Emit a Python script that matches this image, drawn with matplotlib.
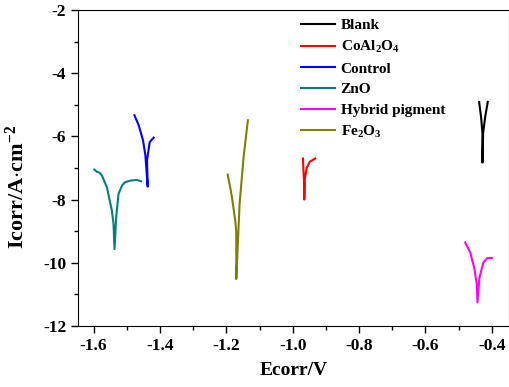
import matplotlib.pyplot as plt
from matplotlib.ticker import MultipleLocator

plt.rcParams['font.family'] = 'Liberation Serif'
plt.rcParams['font.weight'] = 'bold'
plt.rcParams['axes.unicode_minus'] = False
plt.rcParams['mathtext.fontset'] = 'custom'
plt.rcParams['mathtext.rm'] = 'Liberation Serif:bold'
plt.rcParams['mathtext.it'] = 'Liberation Serif:bold'
plt.rcParams['mathtext.bf'] = 'Liberation Serif:bold'

# Tafel curves: left branch -> minimum -> right branch
blank_e = [-0.438, -0.432, -0.428, -0.428, -0.426, -0.420, -0.412]
blank_i = [-4.91, -5.40, -5.90, -6.83, -5.90, -5.40, -4.91]

coal_e = [-0.969, -0.967, -0.965, -0.965, -0.964, -0.958, -0.948, -0.932]
coal_i = [-6.70, -7.20, -7.50, -8.00, -7.40, -7.00, -6.80, -6.70]

control_e = [-1.477, -1.464, -1.451, -1.444, -1.437, -1.439, -1.431, -1.419]
control_i = [-5.33, -5.65, -6.13, -6.60, -7.59, -6.76, -6.18, -6.04]

zno_e = [-1.598, -1.590, -1.582, -1.575, -1.560, -1.545, -1.540, -1.537,
         -1.532, -1.525, -1.514, -1.505, -1.489, -1.470, -1.457]
zno_i = [-7.05, -7.12, -7.15, -7.24, -7.61, -8.35, -8.77, -9.57,
         -8.56, -7.82, -7.55, -7.45, -7.40, -7.38, -7.42]

hybrid_e = [-0.480, -0.465, -0.453, -0.445, -0.443, -0.437, -0.425, -0.413, -0.400]
hybrid_i = [-9.36, -9.67, -10.15, -10.68, -11.26, -10.47, -9.99, -9.85, -9.85]

fe_e = [-1.196, -1.188, -1.183, -1.173, -1.170, -1.170, -1.160, -1.148, -1.135]
fe_i = [-7.21, -7.63, -7.93, -8.67, -9.04, -10.52, -8.14, -6.66, -5.49]


def draw():
    fig = plt.figure(figsize=(5.1, 3.87), dpi=100)
    ax = fig.add_axes([0.153, 0.158, 0.845, 0.816])

    ax.plot(blank_e, blank_i, color='black', lw=1.5, label='Blank')
    ax.plot(coal_e, coal_i, color='red', lw=1.5, label=r'CoAl$_2$O$_4$')
    ax.plot(control_e, control_i, color='blue', lw=1.5, label='Control')
    ax.plot(zno_e, zno_i, color='#007F7F', lw=1.5, label='ZnO')
    ax.plot(hybrid_e, hybrid_i, color='magenta', lw=1.5, label='Hybrid pigment')
    ax.plot(fe_e, fe_i, color='#808000', lw=1.5, label=r'Fe$_2$O$_3$')

    ax.set_xlim(-1.647, -0.348)
    ax.set_ylim(-12, -2)
    ax.xaxis.set_major_locator(MultipleLocator(0.2))
    ax.xaxis.set_minor_locator(MultipleLocator(0.1))
    ax.yaxis.set_major_locator(MultipleLocator(2))
    ax.yaxis.set_minor_locator(MultipleLocator(1))
    ax.tick_params(which='both', direction='out', top=False, right=False,
                   labelsize=12.5, width=1)
    ax.tick_params(which='major', length=5)
    ax.tick_params(which='minor', length=3)
    ax.set_xticklabels([f'{v:.1f}' for v in ax.get_xticks()])

    ax.set_xlabel('Ecorr/V', fontsize=14, fontweight='bold', labelpad=6)
    ax.set_ylabel(r'Icorr/A$\cdot$cm$^{-2}$', fontsize=16, fontweight='bold')
    ax.yaxis.set_label_coords(-0.115, 0.44)

    ax.legend(loc='upper left', bbox_to_anchor=(0.578, 0.968),
              bbox_transform=fig.transFigure, frameon=False,
              fontsize=11, handlelength=2.2, handletextpad=0.4,
              labelspacing=0.45, borderaxespad=0)

    fig.savefig('out.png', dpi=100)


if __name__ == "__main__":
    draw()
